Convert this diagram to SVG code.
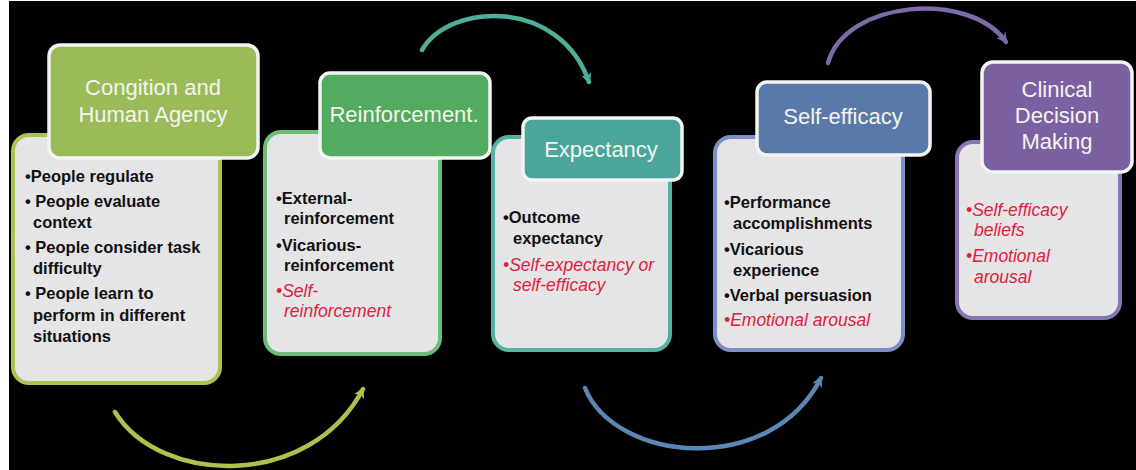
<svg xmlns="http://www.w3.org/2000/svg" width="1136" height="470" viewBox="0 0 1136 470">
<style>
.hdr{font-family:"Liberation Sans",Arial,sans-serif;font-size:22px;fill:#f4f4ee;text-anchor:middle}
.b{font-family:"Liberation Sans",Arial,sans-serif;font-size:16.5px;font-weight:bold;fill:#111}
.r{font-family:"Liberation Sans",Arial,sans-serif;font-size:17.5px;font-style:italic;fill:#e0213d}
.body{fill:#e5e5e7;stroke-width:4}
.head{stroke:#f4f4f4;stroke-width:3.5}
.arc{fill:none;stroke-width:4.5;stroke-linecap:round}
</style>
<defs>
<marker id="m1" viewBox="0 0 10 10" refX="8" refY="5" markerWidth="11" markerHeight="11" markerUnits="userSpaceOnUse" orient="auto"><path d="M0,0 L10,5 L0,10 L3,5 z" fill="#adc24d"/></marker>
<marker id="m2" viewBox="0 0 10 10" refX="8" refY="5" markerWidth="11" markerHeight="11" markerUnits="userSpaceOnUse" orient="auto"><path d="M0,0 L10,5 L0,10 L3,5 z" fill="#4fae98"/></marker>
<marker id="m3" viewBox="0 0 10 10" refX="8" refY="5" markerWidth="11" markerHeight="11" markerUnits="userSpaceOnUse" orient="auto"><path d="M0,0 L10,5 L0,10 L3,5 z" fill="#5a88b5"/></marker>
<marker id="m4" viewBox="0 0 10 10" refX="8" refY="5" markerWidth="11" markerHeight="11" markerUnits="userSpaceOnUse" orient="auto"><path d="M0,0 L10,5 L0,10 L3,5 z" fill="#7f6aa8"/></marker>
</defs>
<rect x="0" y="0" width="1136" height="470" fill="#ffffff"/>
<rect x="9" y="1" width="1127" height="469" fill="#000000"/>

<g id="connectors">
<path class="arc" stroke="#adc24d" d="M115,412 C160,485 310,490 363,389" marker-end="url(#m1)"/>
<path class="arc" stroke="#4fae98" d="M422,50 C450,2 560,-2 589,82" marker-end="url(#m2)"/>
<path class="arc" stroke="#5a88b5" d="M585,388 C615,462 770,478 821,378" marker-end="url(#m3)"/>
<path class="arc" stroke="#7f6aa8" d="M828,63 C845,0 970,-10 1006,42" marker-end="url(#m4)"/>
</g>

<g id="node-cognition">
<rect class="body" x="13" y="135" width="207" height="248" rx="16" stroke="#aac452"/>
<rect class="head" x="49" y="45" width="209" height="113" rx="11" fill="#9bbb59"/>
<text class="hdr" x="153" y="95">Congition and</text>
<text class="hdr" x="153" y="122">Human Agency</text>
<text class="b" x="25" y="182">•People regulate</text>
<text class="b" x="25" y="207">• People evaluate</text>
<text class="b" x="33" y="228">context</text>
<text class="b" x="25" y="253">• People consider task</text>
<text class="b" x="33" y="274">difficulty</text>
<text class="b" x="25" y="299">• People learn to</text>
<text class="b" x="33" y="321">perform in different</text>
<text class="b" x="33" y="342">situations</text>
</g>

<g id="node-reinforcement">
<rect class="body" x="265" y="132" width="175" height="222" rx="16" stroke="#6cbd78"/>
<rect class="head" x="320" y="73" width="170" height="85" rx="10" fill="#52ab5e"/>
<text class="hdr" x="404" y="122">Reinforcement.</text>
<text class="b" x="276" y="204">•External-</text>
<text class="b" x="284" y="224">reinforcement</text>
<text class="b" x="276" y="251">•Vicarious-</text>
<text class="b" x="284" y="271">reinforcement</text>
<text class="r" x="276" y="297">•Self-</text>
<text class="r" x="284" y="317">reinforcement</text>
</g>

<g id="node-expectancy">
<rect class="body" x="493" y="137" width="177" height="213" rx="16" stroke="#55b3a2"/>
<rect class="head" x="523" y="118" width="159" height="62" rx="9" fill="#4aa59b"/>
<text class="hdr" x="601" y="157">Expectancy</text>
<text class="b" x="503" y="223">•Outcome</text>
<text class="b" x="513" y="244">expectancy</text>
<text class="r" x="503" y="271">•Self-expectancy or</text>
<text class="r" x="513" y="291">self-efficacy</text>
</g>

<g id="node-selfefficacy">
<rect class="body" x="715" y="137" width="188" height="213" rx="16" stroke="#7d90c2"/>
<rect class="head" x="757" y="82" width="173" height="73" rx="10" fill="#5a79ab"/>
<text class="hdr" x="843" y="124">Self-efficacy</text>
<text class="b" x="724" y="208">•Performance</text>
<text class="b" x="733" y="229">accomplishments</text>
<text class="b" x="724" y="255">•Vicarious</text>
<text class="b" x="733" y="276">experience</text>
<text class="b" x="724" y="301">•Verbal persuasion</text>
<text class="r" x="724" y="326">•Emotional arousal</text>
</g>

<g id="node-clinical">
<rect class="body" x="957" y="142" width="163" height="176" rx="16" stroke="#8a76b3"/>
<rect class="head" x="982" y="62" width="150" height="110" rx="11" fill="#7b61a2"/>
<text class="hdr" x="1057" y="97">Clinical</text>
<text class="hdr" x="1057" y="123">Decision</text>
<text class="hdr" x="1057" y="149">Making</text>
<text class="r" x="966" y="216">•Self-efficacy</text>
<text class="r" x="974" y="236">beliefs</text>
<text class="r" x="966" y="262">•Emotional</text>
<text class="r" x="974" y="283">arousal</text>
</g>
</svg>
